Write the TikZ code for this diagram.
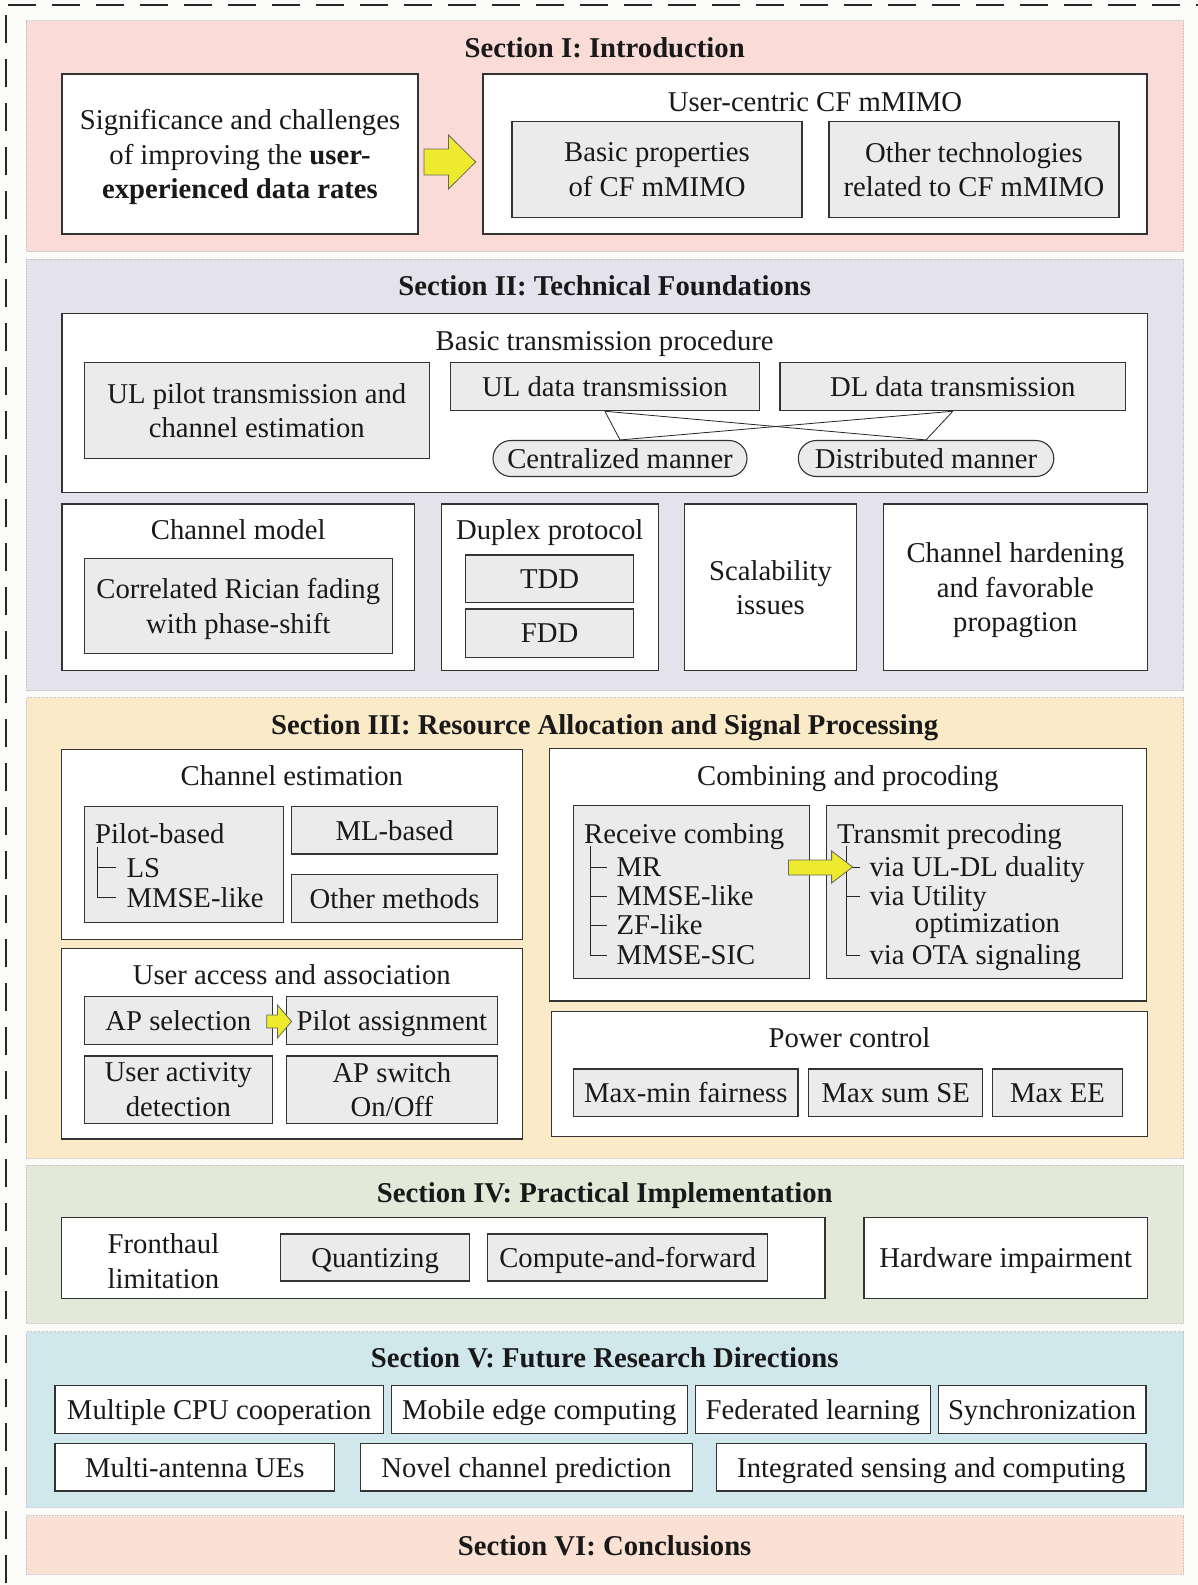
\documentclass[tikz,border=0pt]{standalone}
\usepackage{fontspec}
\setmainfont{Liberation Serif}
\definecolor{secI}{HTML}{FADBD8}
\definecolor{secII}{HTML}{E4E3EB}
\definecolor{secIII}{HTML}{FAEAC8}
\definecolor{secIV}{HTML}{E2E9D8}
\definecolor{secV}{HTML}{D0E7EC}
\definecolor{secVI}{HTML}{FAE1D4}
\definecolor{boxgray}{HTML}{EBEBEB}
\definecolor{ayellow}{HTML}{EEEA2E}
\definecolor{bgcol}{HTML}{FBFBFA}
% \bx{style}{name}{x1}{y1}{x2}{y2}{text}
\newcommand\bx[7]{\node[#1, minimum width={#5-#3}, minimum height={#6-#4}] (#2) at ({(#3+#5)/2},{(#4+#6)/2}) {#7};}
\begin{document}
\begin{tikzpicture}[x=1pt,y=-1pt,
  every node/.style={font=\fontsize{28.7}{34.5}\selectfont, text=black!90},
  band/.style={draw=gray!45, densely dotted, line width=0.6pt, inner sep=0pt},
  wbox/.style={draw=black!80, fill=white, line width=1.1pt, inner sep=0pt, align=center, text depth=0pt},
  gbox/.style={wbox, fill=boxgray},
  pill/.style={gbox, rounded corners=18pt},
  ttl/.style={font=\fontsize{28.7}{34.5}\selectfont\bfseries, inner sep=0pt, anchor=base},
  sub/.style={inner sep=0pt, anchor=base},
  lbl/.style={inner sep=0pt, anchor=base west},
  treeline/.style={line width=0.9pt, draw=black!85},
  yarrow/.style={fill=ayellow, draw=black!60, line width=0.8pt, line join=miter},
  link/.style={line width=0.8pt, draw=black!85},
  frame/.style={line width=1.6pt, draw=black!85, dash pattern=on 28pt off 16pt}
]
\useasboundingbox (0,0) rectangle (1198,1585);
\fill[bgcol] (0,0) rectangle (1198,1585);
% outer dashed frame (right and bottom sides lie outside the picture)
\draw[frame, dash phase=41.6pt] (6,5) -- (1198,5);
\draw[frame, dash phase=34pt] (6,5) -- (6,1585);

% ---------------- Section I ----------------
\bx{band, fill=secI}{s1}{26}{20.7}{1183.5}{251.7}{}
\node[ttl] (t1) at (604.7,57.8) {Section I: Introduction};
\bx{wbox}{sig}{62}{74}{418}{234}{Significance and challenges\\of improving the \textbf{user-}\\\textbf{experienced data rates}}
\bx{wbox}{uc}{483}{74}{1147}{234}{}
\node[sub] (uct) at (815,111.2) {User-centric CF mMIMO};
\bx{gbox}{bp}{512}{121.7}{802}{217.3}{Basic properties\\of CF mMIMO}
\bx{gbox}{ot}{829}{121.7}{1119}{217.3}{Other technologies\\related to CF mMIMO}
\filldraw[yarrow] (424,149) -- (448.5,149) -- (448.5,135) -- (475.7,162) -- (448.5,189) -- (448.5,175) -- (424,175) -- cycle;

% ---------------- Section II ----------------
\bx{band, fill=secII}{s2}{26}{259}{1183.5}{690.5}{}
\node[ttl] (t2) at (604.7,295.5) {Section II: Technical Foundations};
\bx{wbox}{btp}{62}{313.3}{1147.3}{492.3}{}
\node[sub] (btpt) at (604.7,350.5) {Basic transmission procedure};
\bx{gbox}{ulp}{84.2}{362.7}{429.4}{458.3}{UL pilot transmission and\\channel estimation}
\bx{gbox}{uld}{450.4}{362.7}{759.4}{410.7}{UL data transmission}
\bx{gbox}{dld}{780}{362.7}{1125.6}{410.7}{DL data transmission}
\bx{pill}{cen}{493}{440.5}{747}{476.5}{Centralized manner}
\bx{pill}{dis}{798.3}{440.5}{1053.8}{476.5}{Distributed manner}
\draw[link] (uld.south) -- (cen.north);
\draw[link] (uld.south) -- (dis.north);
\draw[link] (dld.south) -- (cen.north);
\draw[link] (dld.south) -- (dis.north);

\bx{wbox}{cm}{62}{504}{414.5}{670.7}{}
\node[sub] (cmt) at (238.2,539.5) {Channel model};
\bx{gbox}{crf}{84.2}{558.3}{392.3}{653.3}{Correlated Rician fading\\with phase-shift}
\bx{wbox}{dup}{441.3}{504}{658.4}{670.7}{}
\node[sub] (dupt) at (549.8,539.5) {Duplex protocol};
\bx{gbox}{tdd}{465.8}{555}{633.6}{602.3}{TDD}
\bx{gbox}{fdd}{465.8}{609}{633.6}{657.3}{FDD}
\bx{wbox}{sca}{684.7}{504}{856.3}{670.7}{Scalability\\issues}
\bx{wbox}{chf}{883.4}{504}{1147.3}{670.7}{Channel hardening\\and favorable\\propagtion}

% ---------------- Section III ----------------
\bx{band, fill=secIII}{s3}{26}{697.5}{1183.5}{1158}{}
\node[ttl] (t3) at (604.7,734.5) {Section III: Resource Allocation and Signal Processing};
% channel estimation
\bx{wbox}{ce}{61.2}{749.3}{522.4}{939.3}{}
\node[sub] (cet) at (291.8,785.5) {Channel estimation};
\bx{gbox}{pb}{84.2}{806.7}{283.2}{922.3}{}
\node[lbl] (pbt) at (95,843) {Pilot-based};
\node[lbl] (ls) at (126.3,877.5) {LS};
\node[lbl] (mmse) at (126.3,907) {MMSE-like};
\draw[treeline] (97.6,847) -- (97.6,897) -- (115.6,897);
\draw[treeline] (97.6,867.5) -- (115.6,867.5);
\bx{gbox}{ml}{291.6}{806.7}{497.5}{854}{ML-based}
\bx{gbox}{om}{291.6}{874.3}{497.5}{922.3}{Other methods}
% user access
\bx{wbox}{ua}{61.2}{948.3}{522.4}{1139}{}
\node[sub] (uat) at (291.8,984.5) {User access and association};
\bx{gbox}{aps}{84.2}{996.7}{272.5}{1044.3}{AP selection}
\bx{gbox}{pa}{286.3}{996.7}{497.5}{1044.3}{Pilot assignment}
\bx{gbox}{uad}{84.2}{1056}{272.5}{1123.3}{User activity\\detection}
\bx{gbox}{apw}{286.3}{1056}{497.5}{1123.3}{AP switch\\On/Off}
\filldraw[yarrow] (266.7,1015) -- (277.5,1015) -- (277.5,1005) -- (291.6,1021.5) -- (277.5,1038) -- (277.5,1028) -- (266.7,1028) -- cycle;
% combining and precoding
\bx{wbox}{cp}{549.2}{748.3}{1146.4}{1001}{}
\node[sub] (cpt) at (847.8,785.5) {Combining and procoding};
\bx{gbox}{rc}{573.6}{805.7}{809.8}{978.3}{}
\node[lbl] (rct) at (584,843) {Receive combing};
\node[lbl] (mr) at (616.4,876.5) {MR};
\node[lbl] (mmse2) at (616.4,905.5) {MMSE-like};
\node[lbl] (zf) at (616.4,934.5) {ZF-like};
\node[lbl] (sic) at (616.4,964.5) {MMSE-SIC};
\draw[treeline] (590.4,846) -- (590.4,955) -- (607.1,955);
\draw[treeline] (590.4,867) -- (607.1,867);
\draw[treeline] (590.4,896) -- (607.1,896);
\draw[treeline] (590.4,925) -- (607.1,925);
\bx{gbox}{tp}{826.6}{805.7}{1122.5}{978.3}{}
\node[lbl] (tpt) at (837,843) {Transmit precoding};
\node[lbl] (dual) at (869.4,876.5) {via UL-DL duality};
\node[lbl] (util) at (869.4,905.5) {via Utility};
\node[lbl] (optz) at (914.7,932.5) {optimization};
\node[lbl] (ota) at (869.4,964.5) {via OTA signaling};
\draw[treeline] (846.3,846) -- (846.3,955) -- (859.8,955);
\draw[treeline] (846.3,867) -- (859.8,867);
\draw[treeline] (846.3,896) -- (859.8,896);
\filldraw[yarrow] (788.4,860) -- (831.6,860) -- (831.6,851) -- (852.6,867) -- (831.6,883) -- (831.6,875) -- (788.4,875) -- cycle;
% power control
\bx{wbox}{pc}{551.3}{1011.7}{1147.6}{1136.7}{}
\node[sub] (pct) at (849.5,1047.2) {Power control};
\bx{gbox}{mmf}{573.6}{1069}{798}{1116.7}{Max-min fairness}
\bx{gbox}{mss}{808.6}{1069}{982.7}{1116.7}{Max sum SE}
\bx{gbox}{mee}{992.4}{1069}{1122.5}{1116.7}{Max EE}

% ---------------- Section IV ----------------
\bx{band, fill=secIV}{s4}{26}{1165}{1183.5}{1323.3}{}
\node[ttl] (t4) at (604.7,1202.8) {Section IV: Practical Implementation};
\bx{wbox}{fh}{61.1}{1217.3}{825}{1298.3}{}
\node[inner sep=0pt, align=left] (fht) at (163.5,1261) {Fronthaul\\limitation};
\bx{gbox}{qz}{280.4}{1234}{469.8}{1281}{Quantizing}
\bx{gbox}{caf}{487.4}{1234}{767.8}{1281}{Compute-and-forward}
\bx{wbox}{hw}{864}{1217.3}{1147.4}{1298.3}{Hardware impairment}

% ---------------- Section V ----------------
\bx{band, fill=secV}{s5}{26}{1331.5}{1183.5}{1507.3}{}
\node[ttl] (t5) at (604.7,1367.8) {Section V: Future Research Directions};
\bx{wbox}{mcpu}{55}{1385.7}{383.5}{1433.3}{Multiple CPU cooperation}
\bx{wbox}{mec}{391.1}{1385.7}{687.5}{1433.3}{Mobile edge computing}
\bx{wbox}{fl}{695.2}{1385.7}{930.5}{1433.3}{Federated learning}
\bx{wbox}{syn}{938.1}{1385.7}{1146}{1433.3}{Synchronization}
\bx{wbox}{mau}{55}{1443.3}{334.6}{1491}{Multi-antenna UEs}
\bx{wbox}{ncp}{360.6}{1443.3}{692.1}{1491}{Novel channel prediction}
\bx{wbox}{isc}{716.6}{1443.3}{1146}{1491}{Integrated sensing and computing}

% ---------------- Section VI ----------------
\bx{band, fill=secVI}{s6}{26}{1515.7}{1183.5}{1574.3}{}
\node[ttl] (t6) at (604.7,1555.5) {Section VI: Conclusions};
\end{tikzpicture}
\end{document}
